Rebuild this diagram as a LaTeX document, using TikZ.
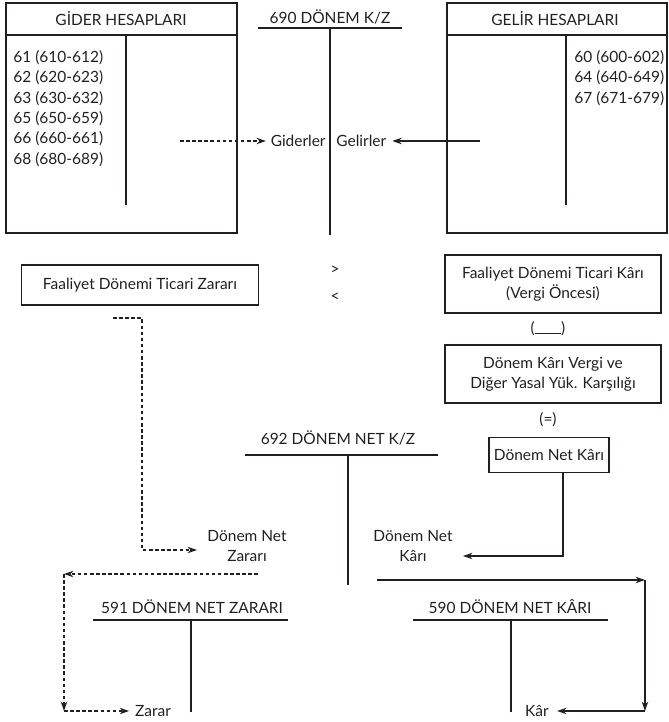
\documentclass[tikz,border=0pt]{standalone}
\usepackage{fontspec}
\setmainfont{Lato}
\usepackage{tikz}
\usetikzlibrary{arrows.meta,positioning,calc}
\definecolor{inkline}{HTML}{231F20}

\begin{document}
\begin{tikzpicture}[
  x=0.03cm, y=-0.03cm,
  every node/.style={text=inkline, font=\fontsize{13.2}{17.4}\selectfont},
  box/.style={draw=inkline, line width=1.3pt, align=center, inner sep=2pt},
  lbl/.style={inner sep=1pt, align=center},
  tline/.style={draw=inkline, line width=1.3pt},
  arr/.style={-{Stealth[length=8pt,width=5.5pt]}, line width=1.2pt, draw=inkline},
  darr/.style={-{Stealth[length=8pt,width=5.5pt]}, line width=1.2pt, draw=inkline, dash pattern=on 3pt off 2.2pt}
]
  \useasboundingbox (0,0) rectangle (669,722);

  \draw[tline] (6,3) rectangle (237,233);
  \draw[tline] (6,35) -- (237,35);
  \draw[tline] (126,35) -- (126,205);
  \node[lbl] (gidertitle) at (121,19) {GİDER HESAPLARI};
  \node[lbl, anchor=north west, align=left] (giderlist) at (12,49) {61 (610-612)\\62 (620-623)\\63 (630-632)\\65 (650-659)\\66 (660-661)\\68 (680-689)};

  \draw[tline] (447,3) rectangle (667,233);
  \draw[tline] (447,35) -- (667,35);
  \draw[tline] (566,35) -- (566,205);
  \node[lbl] (gelirtitle) at (555,19) {GELİR HESAPLARI};
  \node[lbl, anchor=north west, align=left] (gelirlist) at (573,49) {60 (600-602)\\64 (640-649)\\67 (671-679)};

  \node[lbl] (kztitle) at (330,17) {690 DÖNEM K/Z};
  \draw[tline] (258,28) -- (402,28);
  \draw[tline] (330,28) -- (330,235);
  \node[lbl, anchor=east] (giderler) at (327,141) {Giderler};
  \node[lbl, anchor=west] (gelirler) at (335,141) {Gelirler};
  \coordinate (giderout) at (180,141);
  \coordinate (gelirout) at (480,141);
  \draw[darr] (giderout) -- ([xshift=-3pt]giderler.west);
  \draw[arr] (gelirout) -- ([xshift=4pt]gelirler.east);

  \node[lbl] (buyuk) at (335,270) {>};
  \node[lbl] (kucuk) at (335,297) {<};

  \node[box, minimum width=7.11cm, minimum height=1.2cm] (ticzarar) at (140,285) {Faaliyet Dönemi Ticari Zararı};
  \node[box, minimum width=6.48cm, minimum height=1.74cm] (tickar) at (553,284) {Faaliyet Dönemi Ticari Kârı\\(Vergi Öncesi)};
  \node[lbl] (eksi) at (548,329) {(\rule{1.7em}{0.8pt})};
  \node[box, minimum width=6.48cm, minimum height=1.74cm] (vergi) at (553,374) {Dönem Kârı Vergi ve\\Diğer Yasal Yük. Karşılığı};
  \node[lbl] (esit) at (548,420) {(=)};
  \node[box, minimum width=3.6cm, minimum height=1.05cm] (netkar) at (549,455) {Dönem Net Kârı};

  \node[lbl] (netktitle) at (338,438) {692 DÖNEM NET K/Z};
  \draw[tline] (245,455) -- (438,455);
  \draw[tline] (348,455) -- (348,585);

  \node[lbl] (netzarar) at (247,546) {Dönem Net\\Zararı};
  \node[lbl] (netkarlbl) at (413,546) {Dönem Net\\Kârı};
  \coordinate (zararout) at (113,318);
  \coordinate (zararbend) at (142,550);
  \draw[darr] (zararout) -| (zararbend) -- (197,550);
  \draw[arr] (563,473) |- (463,556);

  \coordinate (zararstart) at (258,574);
  \coordinate (zararcorner) at (64,574);
  \coordinate (karstart) at (377,580);
  \coordinate (karcorner) at (645,580);

  \node[lbl] (zarartitle) at (192,607) {591 DÖNEM NET ZARARI};
  \draw[tline] (93,620) -- (288,620);
  \draw[tline] (191,620) -- (191,712);
  \node[lbl] (kartitle) at (510,607) {590 DÖNEM NET KÂRI};
  \draw[tline] (413,620) -- (608,620);
  \draw[tline] (511,620) -- (511,712);

  \node[lbl] (zarar) at (153,711) {Zarar};
  \node[lbl] (kar) at (537,711) {Kâr};

  \draw[darr] (zararstart) -- (zararcorner);
  \draw[darr] (zararcorner) -- (zararcorner |- zarar);
  \draw[darr] (zararcorner |- zarar) -- ([xshift=-4pt]zarar.west);
  \draw[arr] (karstart) -- (karcorner);
  \draw[arr] (karcorner) -- (karcorner |- kar);
  \draw[arr] (karcorner |- kar) -- ([xshift=6pt]kar.east);
\end{tikzpicture}
\end{document}
